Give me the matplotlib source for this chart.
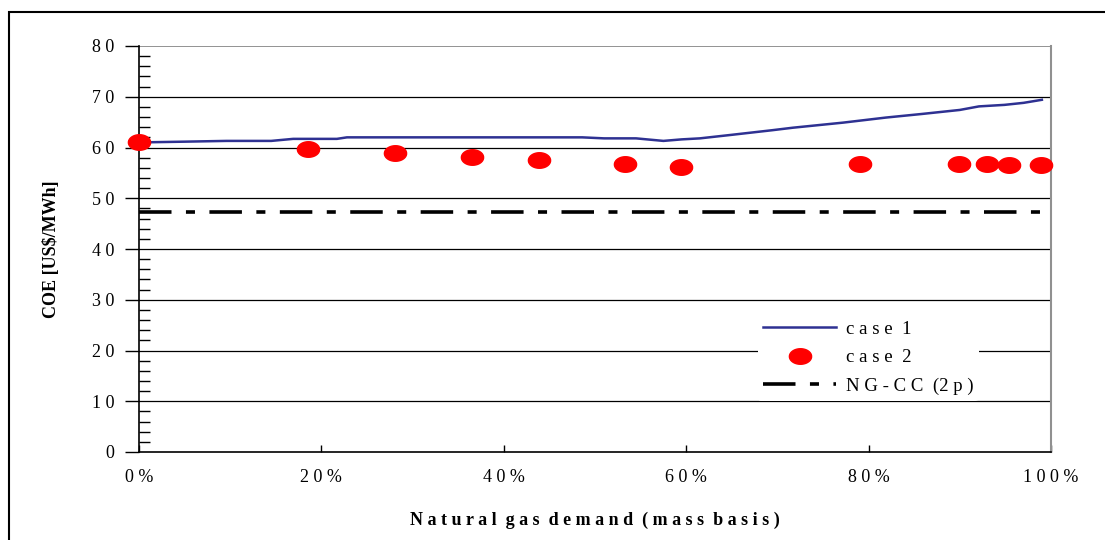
import matplotlib
matplotlib.use("Agg")
import matplotlib.pyplot as plt
import numpy as np
from matplotlib.path import Path
from matplotlib.patches import Rectangle
from matplotlib.ticker import MultipleLocator

# Data
case1_x = [0, 5, 9.6, 14.5, 16.9, 21.7, 22.8, 30, 40, 48.6, 51, 54.5, 57.5, 59.5,
           61.5, 65, 69.4, 71.7, 77.2, 81.9, 85.8, 90, 92.1, 94.9, 97, 99]
case1_y = [61.0, 61.15, 61.3, 61.3, 61.7, 61.7, 62.0, 62.0, 62.0, 62.0, 61.8, 61.8, 61.3, 61.6,
           61.8, 62.5, 63.4, 63.9, 64.9, 65.9, 66.6, 67.4, 68.1, 68.4, 68.8, 69.4]
case2_x = [0, 18.5, 28.1, 36.5, 43.9, 53.3, 59.4, 79.1, 89.9, 93.0, 95.4, 98.9]
case2_y = [61.0, 59.7, 59.0, 58.2, 57.6, 56.8, 56.1, 56.8, 56.8, 56.8, 56.5, 56.5]
ngcc = 47.3

yticks = [0, 10, 20, 30, 40, 50, 60, 70, 80]
ytick_labels = ["0", "1 0", "2 0", "3 0", "4 0", "5 0", "6 0", "7 0", "8 0"]
xticks = [0, 20, 40, 60, 80, 100]
xtick_labels = ["0 %", "2 0 %", "4 0 %", "6 0 %", "8 0 %", "1 0 0 %"]

plt.rcParams['font.family'] = ['Liberation Serif', 'DejaVu Serif']

fig = plt.figure(figsize=(11.05, 5.4), dpi=100)
ax = fig.add_axes([139/1105, 88/540, 912/1105, 406/540])

# outer frame of the chart area (open on the right and bottom)
fig.patches.append(Rectangle((9/1105, -0.05), 1.2, (540-12)/540 + 0.05, transform=fig.transFigure,
                             fill=False, edgecolor='black', linewidth=1.5))

for v in yticks[1:-1]:
    ax.axhline(v, color='black', linewidth=0.9, zorder=1)
ax.axhline(80, color='#808080', linewidth=1.2, zorder=1)

ellipse = Path(np.column_stack([np.cos(np.linspace(0, 2*np.pi, 60)),
                                0.7*np.sin(np.linspace(0, 2*np.pi, 60))]))

ax.plot(case1_x, case1_y, color='#2e3192', linewidth=1.8, label='c a s e  1', zorder=3)
ax.plot(case2_x, case2_y, linestyle='none', marker=ellipse, markersize=16,
        color='red', label='c a s e  2', zorder=4, clip_on=False)
ax.axhline(ngcc, color='black', linewidth=2.6, dashes=(9, 4, 2.5, 4),
           label='N G - C C  (2 p )', zorder=2)

ax.set_xlim(0, 100)
ax.set_ylim(0, 80)
ax.spines['top'].set_visible(False)
ax.spines['right'].set_color('#909090')
ax.spines['right'].set_linewidth(1.5)
ax.spines['left'].set_linewidth(1.2)
ax.spines['bottom'].set_linewidth(1.2)

ax.set_yticks(yticks)
ax.set_yticklabels(ytick_labels, fontsize=13)
ax.yaxis.set_minor_locator(MultipleLocator(2))
ax.tick_params(axis='y', which='major', direction='out', length=10, width=1, pad=8)
ax.tick_params(axis='y', which='minor', direction='in', length=8, width=1)
ax.set_xticks(xticks)
ax.set_xticklabels(xtick_labels, fontsize=13)
ax.tick_params(axis='x', which='major', direction='in', length=5, width=1, pad=12)

ax.set_xlabel('N a t u r a l  g a s  d e m a n d  ( m a s s  b a s i s )',
              fontsize=13, fontweight='bold', labelpad=19)
ax.set_ylabel('COE [US$/MWh]', fontsize=13, fontweight='bold', labelpad=23)

leg = ax.legend(loc='upper left', bbox_to_anchor=(0.668, 0.36), fontsize=13.5,
                frameon=True, handlelength=3.9, handletextpad=0.5,
                labelspacing=0.6, borderpad=0.3)
leg.get_frame().set_facecolor('white')
leg.get_frame().set_edgecolor('none')
leg.get_frame().set_alpha(1)

fig.savefig("out.png", dpi=100)
